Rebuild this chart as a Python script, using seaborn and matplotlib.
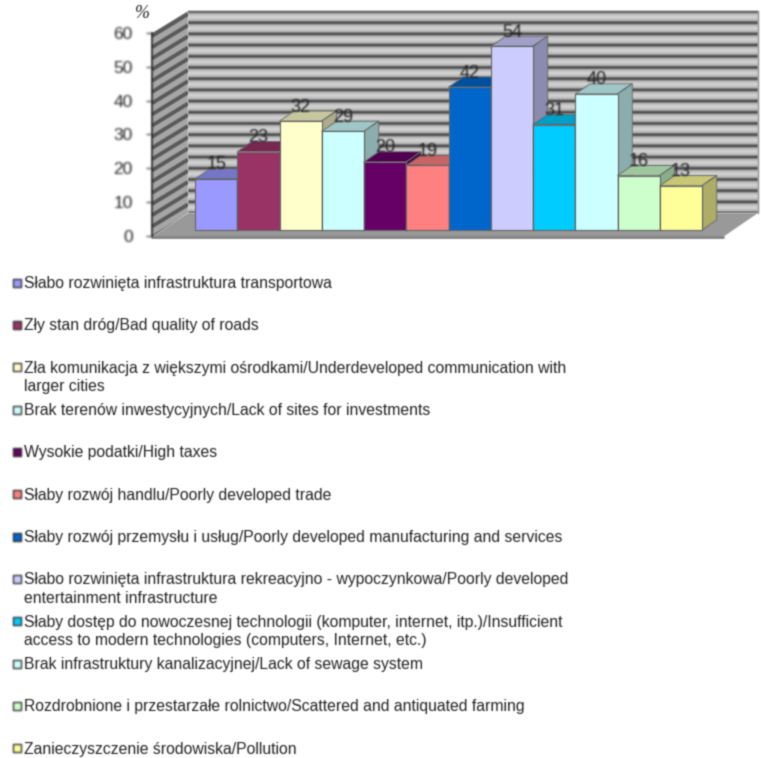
import numpy as np
import pandas as pd
import matplotlib
matplotlib.use("Agg")
import matplotlib.pyplot as plt
import seaborn as sns
from matplotlib.axes import Axes
from matplotlib.colors import to_rgb
from matplotlib.figure import Figure
from matplotlib.patches import Polygon

# Chart data
values = [15, 23, 32, 29, 20, 19, 42, 54, 31, 40, 16, 13]
bar_colors = ["#9999FF", "#993366", "#FFFFCC", "#CCFFFF", "#660066", "#FF8080",
              "#0066CC", "#CCCCFF", "#00CCFF", "#CCFFFF", "#CCFFCC", "#FFFF99"]
categories = [
    "Słabo rozwinięta infrastruktura transportowa",
    "Zły stan dróg/Bad quality of roads",
    "Zła komunikacja z większymi ośrodkami/Underdeveloped communication with\nlarger cities",
    "Brak terenów inwestycyjnych/Lack of sites for investments",
    "Wysokie podatki/High taxes",
    "Słaby rozwój handlu/Poorly developed trade",
    "Słaby rozwój przemysłu i usług/Poorly developed manufacturing and services",
    "Słabo rozwinięta infrastruktura rekreacyjno - wypoczynkowa/Poorly developed\nentertainment infrastructure",
    "Słaby dostęp do nowoczesnej technologii (komputer, internet, itp.)/Insufficient\naccess to modern technologies (computers, Internet, etc.)",
    "Brak infrastruktury kanalizacyjnej/Lack of sewage system",
    "Rozdrobnione i przestarzałe rolnictwo/Scattered and antiquated farming",
    "Zanieczyszczenie środowiska/Pollution",
]
y_ticks = [0, 10, 20, 30, 40, 50, 60]

W, H = 761, 758
TEXT = "#222222"

sns.set_theme(style="white")
plt.rcParams["font.family"] = ["Liberation Sans", "DejaVu Sans"]


def shade(color, factor):
    return tuple(c * factor for c in to_rgb(color))


def px_axes(left, right, top, bottom):
    # axes placed by pixel edges, y counted from the top of the image
    return fig.add_axes([left / W, 1 - bottom / H, (right - left) / W, (bottom - top) / H])


def soften(img, dpi):
    # light blur, the source picture is a soft scan
    pad = 2
    img = np.pad(img, ((pad, pad), (pad, pad), (0, 0)))
    alpha = img[..., 3:]
    kernel = np.array([0.2, 0.6, 0.2])
    out = np.dstack([img[..., :3] * alpha, alpha])
    for axis in (0, 1):
        out = np.apply_along_axis(lambda a: np.convolve(a, kernel, mode="same"), axis, out)
    a = np.clip(out[..., 3:], 1e-6, 1)
    res = np.dstack([np.clip(out[..., :3] / a, 0, 1), out[..., 3:]])
    return res, -pad, -pad


fig = plt.figure(figsize=(W / 100, H / 100), dpi=100)

# Background layer in pixel coordinates: walls, floor, legend
bg = fig.add_axes([0, 0, 1, 1])
bg.axis("off")

# back wall: striped grey, thin dark line in a wider light band
phase = np.cos(np.arange(0, 202) * 2 * np.pi / 11.2)
stripes = 0.72 - 0.42 * np.clip(phase, 0, 1) ** 2 + 0.1 * np.clip(-phase, 0, 1)
bg.imshow(stripes[:, None], cmap="gray", vmin=0, vmax=1, aspect="auto",
          extent=(188, 758, 213, 11), interpolation="bilinear", zorder=1)
bg.set_xlim(0, W)
bg.set_ylim(H, 0)
bg.plot([188, 758, 758], [11, 11, 213], color="#888888", lw=1, zorder=2)

# left wall: same stripes, slanted
wall = Polygon([(152, 33), (188, 11), (188, 213), (152, 237)], fc="#A6A6A6", ec="none", zorder=1)
bg.add_patch(wall)
for k in range(0, 19):
    off = k * 11.2 + 3
    line, = bg.plot([152, 188], [33 + off, 11 + off], color="#5A5A5A", lw=2.8, zorder=2, solid_capstyle="butt")
    line.set_clip_path(wall)

# floor
bg.add_patch(Polygon([(152, 237), (723, 237), (758, 213), (188, 213)], fc="#999999", ec="none", zorder=3))
bg.plot([152, 723], [237, 237], color="#808080", lw=2, zorder=3)

# Axis with the ticks, on the front left edge
ax_scale = px_axes(152, 723, 33, 236)
ax_scale.patch.set_alpha(0)
ax_scale.set_ylim(0, 60)
ax_scale.set_yticks(y_ticks)
ax_scale.set_xticks([])
ax_scale.tick_params(axis="y", left=True, length=4, width=1, color="#555555",
                     labelsize=12.5, labelcolor=TEXT, pad=10)
sns.despine(ax=ax_scale, bottom=True)
ax_scale.spines["left"].set_color("#222222")
ax_scale.spines["left"].set_linewidth(1.2)

# Bars
ax = px_axes(195, 702, 26, 230)
ax.patch.set_alpha(0)
df = pd.DataFrame({"category": categories, "value": values})
sns.barplot(data=df, x="category", y="value", hue="category", palette=bar_colors, saturation=1,
            width=1, dodge=False, legend=False, edgecolor="#666666", linewidth=0.8, ax=ax)
ax.set_xlim(-0.5, len(values) - 0.5)
ax.set_ylim(0, 60)
ax.axis("off")

# Fake 3D faces built from the bars themselves
depth_x, depth_y = 0.35, 3.0
bars = [p for c in ax.containers for p in c]
for i, (bar, color) in enumerate(zip(bars, bar_colors)):
    x0, x1, h = bar.get_x(), bar.get_x() + bar.get_width(), bar.get_height()
    top = [(x0, h), (x1, h), (x1 + depth_x, h + depth_y), (x0 + depth_x, h + depth_y)]
    side = [(x1, 0), (x1 + depth_x, depth_y), (x1 + depth_x, h + depth_y), (x1, h)]
    ax.add_patch(Polygon(top, fc=shade(color, 0.78), ec="#666666", lw=0.6, zorder=2 * i + 2, clip_on=False))
    ax.add_patch(Polygon(side, fc=shade(color, 0.68), ec="#666666", lw=0.6, zorder=2 * i + 2, clip_on=False))
    bar.set_zorder(2 * i + 3)
    bar.set_clip_on(False)

for container in ax.containers:
    for t in ax.bar_label(container, padding=4, fontsize=13, color=TEXT):
        t.set_zorder(100)

# % sign above the axis
bg.text(142, 14, "%", fontsize=13, family="Liberation Serif", style="italic",
        color=TEXT, ha="center", va="center")

# Legend written by hand, rows keep equal spacing like the original
for i, (label, color) in enumerate(zip(categories, bar_colors)):
    y = 282.5 + i * 42.35
    bg.scatter([17], [y], marker="s", s=26, color=color, edgecolor="#333333", linewidth=1.0, zorder=5)
    bg.text(24.5, y - 6.5, label, fontsize=11.3, color=TEXT, ha="left", va="top", linespacing=1.27)

for artist in fig.findobj():
    if not isinstance(artist, (Figure, Axes)):
        artist.set_agg_filter(soften)

fig.savefig("out.png", dpi=100)
